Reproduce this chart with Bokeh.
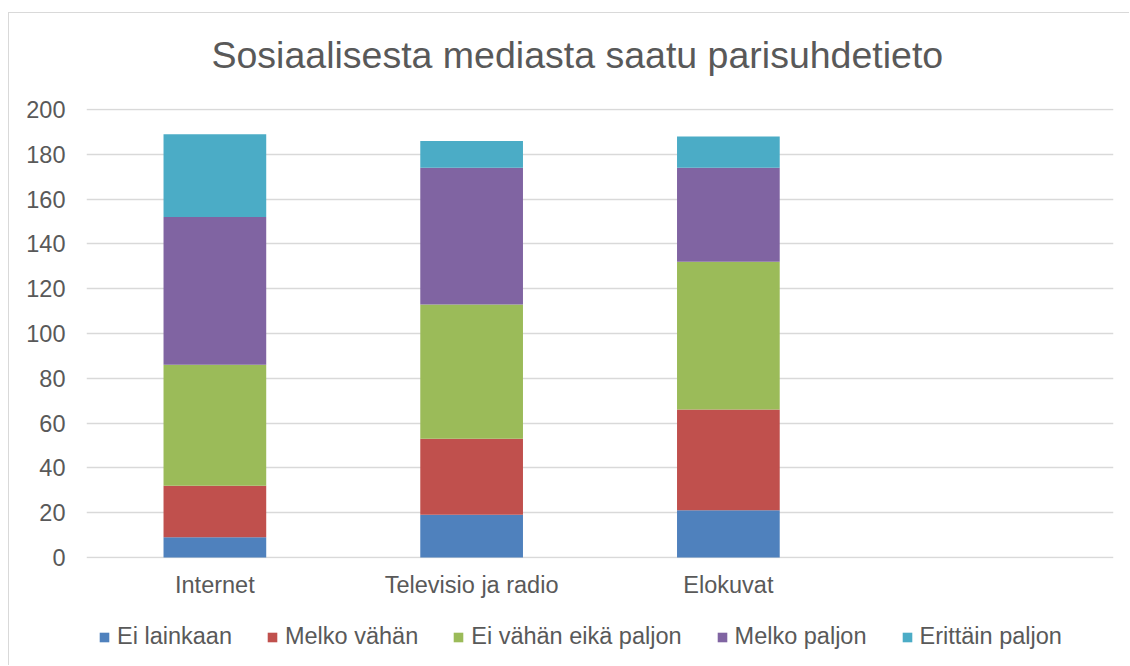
from bokeh.plotting import figure
from bokeh.layouts import column
from bokeh.models import FactorRange, Range1d, Legend, LegendItem, FixedTicker, ColumnDataSource, Title
from bokeh.embed import file_html
from bokeh.resources import INLINE

categories = ["Internet", "Televisio ja radio", "Elokuvat"]
empty_slot = [" "]
series_names = ["Ei lainkaan", "Melko vähän", "Ei vähän eikä paljon", "Melko paljon", "Erittäin paljon"]
ei_lainkaan = [9, 19, 21]
melko_vahan = [23, 34, 45]
ei_vahan_eika_paljon = [54, 60, 66]
melko_paljon = [66, 61, 42]
erittain_paljon = [37, 12, 14]
colors = ["#4F81BD", "#C0504D", "#9BBB59", "#8064A2", "#4BACC6"]
y_ticks = [0, 20, 40, 60, 80, 100, 120, 140, 160, 180, 200]
chart_title = "Sosiaalisesta mediasta saatu parisuhdetieto"

FONT = "Liberation Sans"
TXT = "#595959"
GRID = "#d9d9d9"

keys = ["s0", "s1", "s2", "s3", "s4"]
source = ColumnDataSource(dict(
    cat=categories,
    s0=ei_lainkaan, s1=melko_vahan, s2=ei_vahan_eika_paljon,
    s3=melko_paljon, s4=erittain_paljon,
))

p = figure(
    title=None,
    x_range=FactorRange(*(categories + empty_slot)),
    y_range=Range1d(-0.5, 200.5),
    width=1121, height=597,
    output_backend="svg", toolbar_location=None,
    min_border_left=77, min_border_right=17,
    min_border_top=95, min_border_bottom=52,
    outline_line_color=None,
    styles={"margin-left": "8px", "margin-top": "12px",
            "border-left": "1px solid #d9d9d9", "border-top": "1px solid #d9d9d9"},
)

renderers = p.vbar_stack(keys, x="cat", width=0.4, color=colors, source=source, line_color=None)

# spacer between the title and the plot area (nearest to frame), then the title
spacer = Title(text=" ", text_font=FONT, text_font_size="10px", standoff=20, text_color="white")
p.add_layout(spacer, "above")
main_title = Title(text=chart_title, text_font=FONT, text_font_size="37.5px",
                   text_font_style="normal", text_color=TXT, align="left",
                   offset=125, standoff=0)
p.add_layout(main_title, "above")

p.yaxis.ticker = FixedTicker(ticks=y_ticks)
p.yaxis.axis_line_color = None
p.yaxis.major_tick_line_color = None
p.yaxis.minor_tick_line_color = None
p.yaxis.major_tick_out = 0
p.yaxis.major_label_standoff = 21
p.yaxis.major_label_text_font = FONT
p.yaxis.major_label_text_font_size = "23.5px"
p.yaxis.major_label_text_color = TXT

p.xaxis.axis_line_color = None
p.xaxis.major_tick_line_color = None
p.xaxis.major_tick_out = 0
p.xaxis.major_label_standoff = 13
p.xaxis.major_label_text_font = FONT
p.xaxis.major_label_text_font_size = "23.5px"
p.xaxis.major_label_text_color = TXT

p.xgrid.grid_line_color = None
p.ygrid.grid_line_color = GRID
p.ygrid.grid_line_width = 1.5

# legend strip below the chart
p2 = figure(
    width=1121, height=56,
    x_range=Range1d(0, 1), y_range=Range1d(0, 1),
    x_axis_type=None, y_axis_type=None,
    output_backend="svg", toolbar_location=None,
    min_border=0, outline_line_color=None,
    styles={"margin-left": "8px", "border-left": "1px solid #d9d9d9"},
)
p2.xgrid.visible = False
p2.ygrid.visible = False
legend_renderers = [
    p2.vbar(x=[0], top=[0], width=0, fill_color=c, line_color=None) for c in colors
]
items = [LegendItem(label=n, renderers=[r]) for n, r in zip(series_names, legend_renderers)]
legend = Legend(
    items=items, orientation="horizontal", location=(12, 15),
    label_text_font=FONT, label_text_font_size="23.5px", label_text_color=TXT,
    glyph_width=12, glyph_height=12, label_standoff=7, spacing=34,
    border_line_color=None, background_fill_alpha=0, padding=0, margin=0,
)
p2.add_layout(legend)

layout = column(p, p2, spacing=0)
open("out.html", "w").write(file_html(layout, INLINE))
